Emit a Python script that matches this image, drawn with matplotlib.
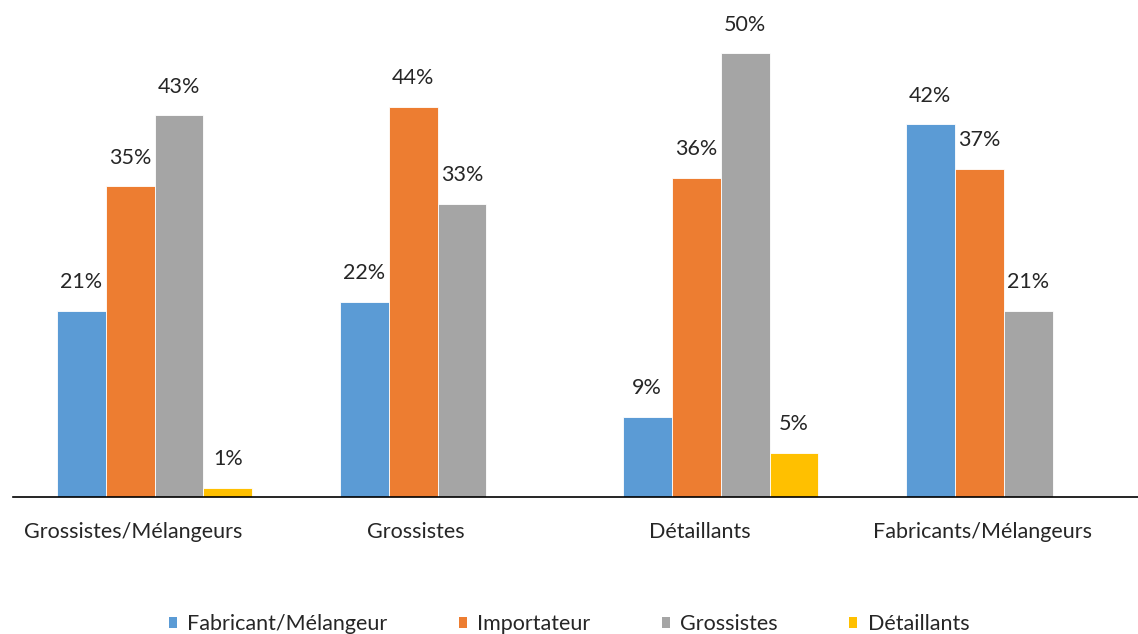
import matplotlib.pyplot as plt
from matplotlib.patches import Patch

# share of each channel, by type of respondent (%)
categories = ['Grossistes/Mélangeurs', 'Grossistes', 'Détaillants', 'Fabricants/Mélangeurs']
fabricant = [21, 22, 9, 42]
importateur = [35, 44, 36, 37]
grossistes = [43, 33, 50, 21]
detaillants = [1, 0, 5, 0]

series = [
    ('Fabricant/Mélangeur', fabricant, '#5B9BD5'),
    ('Importateur', importateur, '#ED7D31'),
    ('Grossistes', grossistes, '#A5A5A5'),
    ('Détaillants', detaillants, '#FFC000'),
]

plt.rcParams['font.family'] = ['Lato', 'DejaVu Sans']
text_color = '#262626'
fs = 15.5

fig = plt.figure(figsize=(11.38, 6.34), dpi=100)
ax = fig.add_axes([13 / 1138, 137 / 634, 1 - 13 / 1138, 497 / 634])

width = 0.173
x = list(range(len(categories)))
for i, (name, vals, color) in enumerate(series):
    offs = (i - 1.5) * width
    xs = [xi + offs for xi in x]
    bars = ax.bar(xs, vals, width, color=color, edgecolor='white', linewidth=0.6, label=name)
    for b, v in zip(bars, vals):
        if v > 0:
            ax.text(b.get_x() + b.get_width() / 2, v + 2.1, f'{v}%', ha='center', va='bottom',
                    fontsize=fs, color=text_color)

ax.set_xlim(-0.5, 3.475)
ax.set_ylim(0, 56)
ax.set_yticks([])
# category labels sit a little left of the bar groups
ax.set_xticks([xi - 0.075 for xi in x])
ax.set_xticklabels(categories, fontsize=fs, color=text_color)
ax.tick_params(axis='x', length=0, pad=18)
for side in ['top', 'right', 'left']:
    ax.spines[side].set_visible(False)
ax.spines['bottom'].set_color('black')
ax.spines['bottom'].set_linewidth(1.2)

handles = [Patch(facecolor=c, edgecolor='none') for _, _, c in series]
fig.legend(handles, [s[0] for s in series], loc='center', bbox_to_anchor=(0.5, 10 / 634),
           ncol=4, frameon=False, fontsize=fs, handlelength=0.37, handleheight=0.37,
           handletextpad=0.5, columnspacing=3.3, labelcolor=text_color)

fig.savefig('out.png', dpi=100)
